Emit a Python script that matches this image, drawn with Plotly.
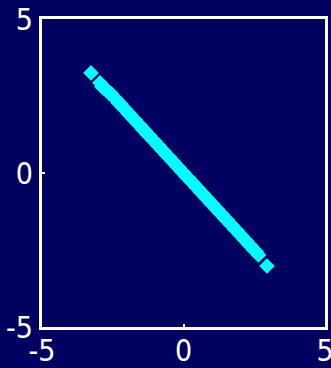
import plotly.graph_objects as go

x_vals = [-3.27, -2.95, -2.88, -2.80, -2.71, -2.62, -2.55, -2.47, -2.38, -2.30,
          -2.21, -2.12, -2.05, -1.96, -1.88, -1.79, -1.70, -1.62, -1.53, -1.45,
          -1.36, -1.28, -1.19, -1.10, -1.02, -0.93, -0.85, -0.76, -0.68, -0.59,
          -0.50, -0.42, -0.33, -0.25, -0.16, -0.08, 0.01, 0.09, 0.18, 0.26,
          0.35, 0.43, 0.52, 0.60, 0.69, 0.78, 0.86, 0.95, 1.03, 1.12,
          1.20, 1.29, 1.37, 1.46, 1.55, 1.63, 1.72, 1.80, 1.89, 1.97,
          2.06, 2.14, 2.23, 2.31, 2.40, 2.48, 2.57, 2.65, 2.95]
y_vals = [3.25, 2.93, 2.80, 2.74, 2.70, 2.58, 2.57, 2.45, 2.40, 2.27,
          2.24, 2.10, 2.07, 1.93, 1.90, 1.76, 1.72, 1.60, 1.55, 1.42,
          1.38, 1.25, 1.21, 1.08, 1.04, 0.91, 0.87, 0.74, 0.70, 0.57,
          0.52, 0.40, 0.35, 0.23, 0.18, 0.06, 0.01, -0.11, -0.16, -0.28,
          -0.33, -0.45, -0.50, -0.62, -0.67, -0.80, -0.84, -0.97, -1.01, -1.14,
          -1.18, -1.31, -1.35, -1.48, -1.53, -1.65, -1.70, -1.82, -1.87, -1.99,
          -2.04, -2.16, -2.21, -2.33, -2.38, -2.50, -2.55, -2.66, -3.02]

tick_vals = [-5, 0, 5]
tick_text = ["-5", "0", "5"]

bg = "#000060"
font = dict(family="Liberation Sans Narrow, DejaVu Sans Condensed", size=30, color="white")

fig = go.Figure()
fig.add_trace(go.Scatter(
    x=x_vals, y=y_vals, mode="markers",
    marker=dict(symbol="diamond", size=12, color="#00FFFF", line=dict(width=0)),
))

axis_common = dict(
    range=[-5, 5], tickvals=tick_vals, ticktext=tick_text,
    showgrid=False, zeroline=False, showline=True, linecolor="white",
    linewidth=3, mirror=True, ticks="inside", ticklen=3, tickwidth=2,
    tickcolor="white", tickfont=font, automargin=False,
    ticklabeloverflow="allow",
)
fig.update_xaxes(**axis_common, ticklabelstandoff=-5)
fig.update_yaxes(**axis_common, ticklabelstandoff=0)

fig.update_layout(
    width=331, height=368,
    margin=dict(l=42, r=6, t=19, b=41),
    paper_bgcolor=bg, plot_bgcolor=bg,
    showlegend=False,
)

fig.write_html("out.html")
